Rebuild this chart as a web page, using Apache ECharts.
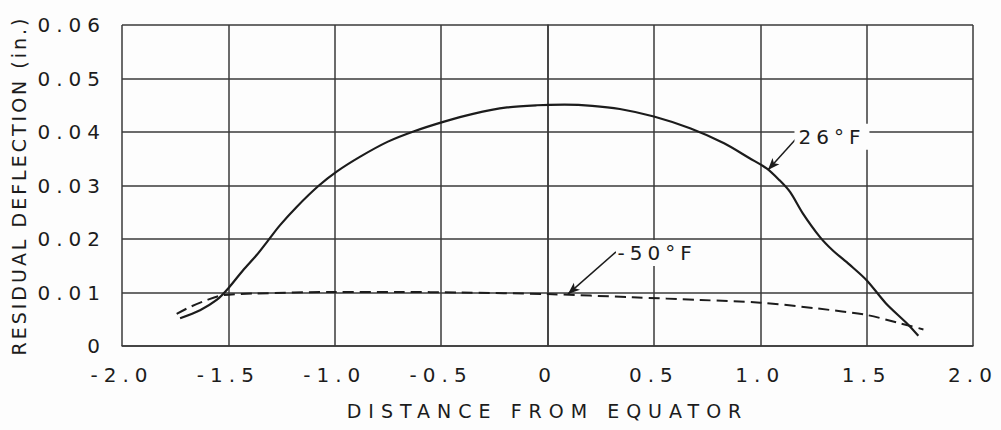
<!DOCTYPE html>
<html>
<head>
<meta charset="utf-8">
<script src="https://cdn.jsdelivr.net/npm/echarts@6/dist/echarts.min.js"></script>
<style>
html, body { margin: 0; padding: 0; background: #fdfdfd; }
#chart { width: 1001px; height: 430px; }
</style>
</head>
<body>
<div id="chart"></div>
<script>
// 26°F curve (solid)
var x26 = [-1.727, -1.633, -1.555, -1.50, -1.43, -1.367, -1.312, -1.257, -1.179, -1.077, -0.991, -0.88, -0.75, -0.63, -0.49, -0.35, -0.19, -0.05, 0.08, 0.21, 0.34, 0.50, 0.67, 0.83, 0.95, 1.03, 1.09, 1.14, 1.20, 1.28, 1.34, 1.42, 1.50, 1.59, 1.69, 1.743];
var y26 = [0.0052, 0.0067, 0.0086, 0.0108, 0.0142, 0.0170, 0.0198, 0.0226, 0.0260, 0.0299, 0.0326, 0.0354, 0.0382, 0.0401, 0.0419, 0.0434, 0.0446, 0.0450, 0.0451, 0.0449, 0.0443, 0.0429, 0.0407, 0.0379, 0.0351, 0.0332, 0.0310, 0.0288, 0.0248, 0.0204, 0.0179, 0.0152, 0.0123, 0.0080, 0.0042, 0.0019];
// -50°F curve (dashed)
var x50 = [-1.743, -1.68, -1.60, -1.524, -1.383, -1.0, -0.69, -0.41, 0.0, 0.40, 0.72, 1.0, 1.27, 1.50, 1.66, 1.767];
var y50 = [0.0060, 0.0073, 0.0086, 0.0095, 0.0098, 0.0101, 0.0101, 0.0100, 0.0097, 0.0091, 0.0086, 0.0081, 0.0070, 0.0058, 0.0042, 0.0031];

var xTicks = ['-2.0', '-1.5', '-1.0', '-0.5', '0', '0.5', '1.0', '1.5', '2.0'];
var yTicks = ['0', '0.01', '0.02', '0.03', '0.04', '0.05', '0.06'];

// label anchor and leader line (from label to curve)
var label26 = [1.337, 0.0391];
var leader26 = [[1.177, 0.0391], [1.036, 0.0329]];
var label50 = [0.515, 0.0174];
var leader50 = [[0.322, 0.0176], [0.096, 0.0097]];

var ink = '#1c1c1c';
var gridInk = '#3a3a3a';
var font = 'DejaVu Sans';

function pairs(xs, ys) {
    return xs.map(function (x, i) { return [x, ys[i]]; });
}

function note(text, at, leader, bend) {
    return {
        markPoint: {
            silent: true,
            symbol: 'rect',
            symbolSize: [1, 1],
            itemStyle: { color: 'rgba(0,0,0,0)' },
            label: {
                show: true,
                position: 'inside',
                formatter: text,
                color: ink,
                fontFamily: font,
                fontSize: 20,
                backgroundColor: '#fdfdfd',
                padding: [3, 14]
            },
            data: [{ coord: at }]
        },
        markLine: {
            silent: true,
            symbol: ['none', 'arrow'],
            symbolSize: [7, 12],
            label: { show: false },
            lineStyle: { color: ink, width: 1.5, type: 'solid', curveness: bend },
            data: [[{ coord: leader[0] }, { coord: leader[1] }]]
        }
    };
}

var chart = echarts.init(document.getElementById('chart'), null, { renderer: 'svg' });

var s26 = {
    name: '26°F',
    type: 'line',
    data: pairs(x26, y26),
    smooth: 0.3,
    showSymbol: false,
    lineStyle: { color: ink, width: 2.2 },
    z: 3
};
Object.assign(s26, note('26°F', label26, leader26, -0.3));

var s50 = {
    name: '-50°F',
    type: 'line',
    data: pairs(x50, y50),
    smooth: 0.3,
    showSymbol: false,
    lineStyle: { color: ink, width: 2, type: [11, 6] },
    z: 3
};
Object.assign(s50, note('-50°F', label50, leader50, -0.3));

var option = {
    animation: false,
    backgroundColor: '#fdfdfd',
    grid: { left: 122, right: 28, top: 25, bottom: 84 },
    xAxis: {
        type: 'value',
        min: -2, max: 2, interval: 0.5,
        name: 'DISTANCE FROM EQUATOR',
        nameLocation: 'middle',
        nameGap: 55,
        nameTextStyle: { color: ink, fontFamily: font, fontSize: 19 },
        axisLine: { show: true, lineStyle: { color: gridInk, width: 1.5 } },
        axisTick: { show: false },
        axisLabel: {
            color: ink, fontFamily: font, fontSize: 20, margin: 19,
            formatter: function (v, i) { return xTicks[i]; }
        },
        splitLine: { show: true, lineStyle: { color: gridInk, width: 1.5 } }
    },
    yAxis: {
        type: 'value',
        min: 0, max: 0.06, interval: 0.01,
        name: 'RESIDUAL DEFLECTION (in.)',
        nameLocation: 'middle',
        nameGap: 94,
        nameTextStyle: { color: ink, fontFamily: font, fontSize: 19 },
        axisLine: { show: true, lineStyle: { color: gridInk, width: 1.5 } },
        axisTick: { show: false },
        axisLabel: {
            color: ink, fontFamily: font, fontSize: 20, margin: 16,
            formatter: function (v, i) { return yTicks[i]; }
        },
        splitLine: { show: true, lineStyle: { color: gridInk, width: 1.5 } }
    },
    series: [s26, s50]
};

chart.setOption(option);

// the original lettering is wide, so space the letters out a little
function spaceLetters() {
    chart.getDom().querySelectorAll('text').forEach(function (t) {
        var s = t.textContent;
        var ls = 6;
        if (s.indexOf('RESIDUAL') === 0) ls = 3;
        else if (s.indexOf('DISTANCE') === 0) ls = 7;
        else if (s.indexOf('°F') > 0) ls = 5;
        t.setAttribute('letter-spacing', ls + 'px');
    });
}
spaceLetters();
chart.on('finished', spaceLetters);
</script>
</body>
</html>
